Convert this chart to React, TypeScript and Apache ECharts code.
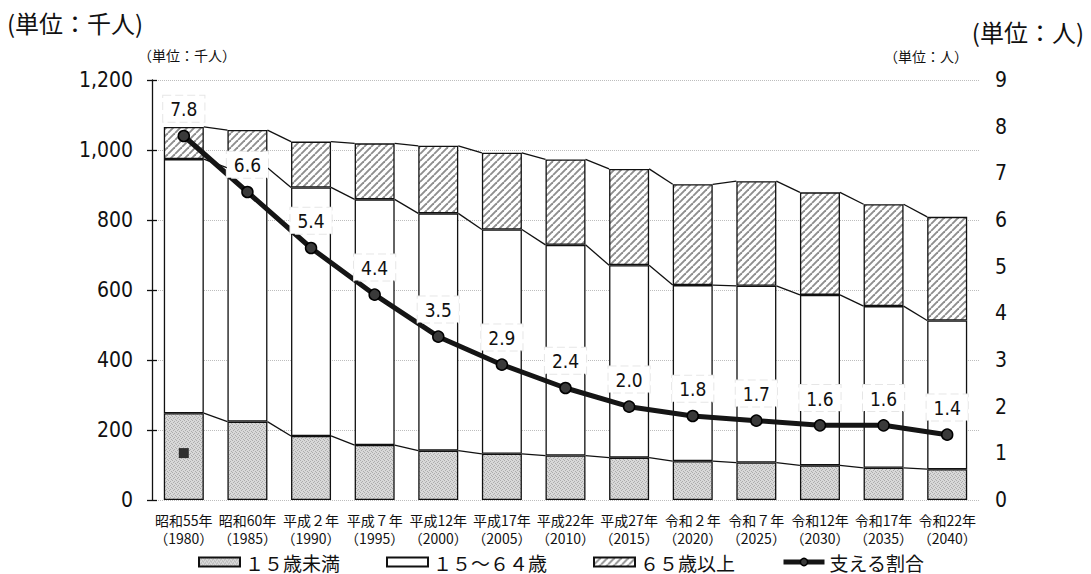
import React, { useEffect, useRef } from "react";
import * as echarts from "echarts";

// 年次（和暦＋西暦）
const categories = [
  "昭和55年\n（1980）",
  "昭和60年\n（1985）",
  "平成２年\n（1990）",
  "平成７年\n（1995）",
  "平成12年\n（2000）",
  "平成17年\n（2005）",
  "平成22年\n（2010）",
  "平成27年\n（2015）",
  "令和２年\n（2020）",
  "令和７年\n（2025）",
  "令和12年\n（2030）",
  "令和17年\n（2035）",
  "令和22年\n（2040）",
];

// 年齢区分別人口（千人）
const under15 = [248, 224, 183, 157, 141, 132, 127, 121, 111, 107, 99, 92, 88];
const age15to64 = [726, 725, 710, 702, 678, 641, 602, 550, 503, 505, 487, 462, 425];
const age65plus = [92, 108, 131, 160, 193, 219, 244, 275, 288, 299, 293, 291, 296];

// 65歳以上1人を支える15～64歳の人数（人）
const supportRatio = [7.8, 6.6, 5.4, 4.4, 3.5, 2.9, 2.4, 2.0, 1.8, 1.7, 1.6, 1.6, 1.4];

const leftTicks = { min: 0, max: 1200, interval: 200 };
const rightTicks = { min: 0, max: 9, interval: 1 };

const NAME_U15 = "１５歳未満";
const NAME_WORK = "１５～６４歳";
const NAME_OLD = "６５歳以上";
const NAME_RATIO = "支える割合";

const BAR_W = 40;
const CJK = "'Noto Sans CJK JP', 'Noto Sans', sans-serif";
const NUM = "'Liberation Sans Narrow', 'DejaVu Sans Condensed', 'DejaVu Sans', sans-serif";

function stipplePattern(): HTMLCanvasElement {
  const c = document.createElement("canvas");
  c.width = 4;
  c.height = 4;
  const g = c.getContext("2d")!;
  g.fillStyle = "#d8d8d8";
  g.fillRect(0, 0, 4, 4);
  g.fillStyle = "#acacac";
  [[0, 0], [2, 1], [1, 2], [3, 3]].forEach(([x, y]) => g.fillRect(x, y, 1, 1));
  return c;
}

function hatchPattern(): HTMLCanvasElement {
  const s = 7;
  const c = document.createElement("canvas");
  c.width = s;
  c.height = s;
  const g = c.getContext("2d")!;
  g.fillStyle = "#ffffff";
  g.fillRect(0, 0, s, s);
  g.strokeStyle = "#8e8e8e";
  g.lineWidth = 1.9;
  for (const k of [-s, 0, s]) {
    g.beginPath();
    g.moveTo(k, s);
    g.lineTo(k + s, 0);
    g.stroke();
  }
  return c;
}

export default function App() {
  const ref = useRef<HTMLDivElement>(null);

  useEffect(() => {
    if (!ref.current) return;
    const chart = echarts.init(ref.current, null, { renderer: "svg", width: 1091, height: 574 });

    const level1 = under15;
    const level2 = under15.map((v, i) => v + age15to64[i]);
    const level3 = level2.map((v, i) => v + age65plus[i]);
    const levels = [level1, level2, level3];

    const barBorder = { borderColor: "#111", borderWidth: 1.3 };

    chart.setOption({
      animation: false,
      backgroundColor: "#ffffff",
      grid: { left: 152, right: 112, top: 80, bottom: 74, containLabel: false },
      legend: {
        left: 198,
        top: 552,
        padding: 0,
        itemWidth: 41,
        itemHeight: 9,
        itemGap: 46,
        textStyle: { fontFamily: CJK, fontSize: 19, color: "#111", lineHeight: 20, height: 20 },
        data: [
          { name: NAME_U15, icon: "rect" },
          { name: NAME_WORK, icon: "rect" },
          { name: NAME_OLD, icon: "rect" },
          {
            name: NAME_RATIO,
            itemWidth: 44,
            itemHeight: 12,
            lineStyle: { color: "#151515", width: 5 },
            itemStyle: { color: "#3a3a3a", borderColor: "#000", borderWidth: 1.5 },
          },
        ],
      },
      xAxis: {
        type: "category",
        data: categories,
        axisLine: { show: false },
        axisTick: { show: false },
        axisLabel: {
          interval: 0,
          fontFamily: CJK,
          fontSize: 14,
          lineHeight: 18,
          margin: 11,
          color: "#111",
        },
      },
      yAxis: [
        {
          type: "value",
          position: "left",
          ...leftTicks,
          axisLine: { show: true, lineStyle: { color: "#111", width: 1.3 } },
          axisTick: { show: true, length: 5, lineStyle: { color: "#111", width: 1.3 } },
          axisLabel: {
            fontFamily: NUM,
            fontSize: 21,
            color: "#111",
            margin: 19,
            formatter: (v: number) => v.toLocaleString("en-US"),
          },
          splitLine: { show: true, lineStyle: { color: "#bdbdbd", type: "dotted", width: 1 } },
        },
        {
          type: "value",
          position: "right",
          ...rightTicks,
          axisLine: { show: false },
          axisTick: { show: false },
          splitLine: { show: false },
          axisLabel: { fontFamily: NUM, fontSize: 21, color: "#111", margin: 16 },
        },
        {
          type: "value",
          position: "left",
          ...leftTicks,
          axisLine: { show: false },
          axisTick: { show: true, inside: true, length: 5, lineStyle: { color: "#111", width: 1.3 } },
          axisLabel: { show: false },
          splitLine: { show: false },
        },
      ],
      series: [
        {
          name: NAME_U15,
          type: "bar",
          stack: "pop",
          barWidth: BAR_W,
          data: under15,
          itemStyle: { color: { image: stipplePattern(), repeat: "repeat" }, ...barBorder },
          z: 2,
        },
        {
          name: NAME_WORK,
          type: "bar",
          stack: "pop",
          barWidth: BAR_W,
          data: age15to64,
          itemStyle: { color: "#ffffff", ...barBorder },
          z: 2,
        },
        {
          name: NAME_OLD,
          type: "bar",
          stack: "pop",
          barWidth: BAR_W,
          data: age65plus,
          itemStyle: { color: { image: hatchPattern(), repeat: "repeat" }, ...barBorder },
          z: 2,
        },
        {
          // connector lines between neighbouring stacked bars
          name: "connectors",
          type: "custom",
          z: 3,
          silent: true,
          data: categories.map((_, i) => [i, 0]),
          encode: { x: 0, y: 1 },
          renderItem: (params: any, api: any) => {
            const i = params.dataIndex;
            if (i >= categories.length - 1) return { type: "group", children: [] };
            const half = BAR_W / 2;
            return {
              type: "group",
              children: levels.map((lvl) => {
                const a = api.coord([i, lvl[i]]);
                const b = api.coord([i + 1, lvl[i + 1]]);
                return {
                  type: "line",
                  shape: { x1: a[0] + half, y1: a[1], x2: b[0] - half, y2: b[1] },
                  style: { stroke: "#111", lineWidth: 1.3 },
                };
              }),
            };
          },
        },
        {
          name: NAME_RATIO,
          type: "line",
          yAxisIndex: 1,
          z: 5,
          data: supportRatio,
          symbol: "circle",
          symbolSize: 11,
          lineStyle: { color: "#151515", width: 5 },
          itemStyle: { color: "#3a3a3a", borderColor: "#000", borderWidth: 1.5 },
          label: {
            show: true,
            position: "top",
            distance: 8,
            formatter: (p: any) => Number(p.value).toFixed(1),
            fontFamily: NUM,
            fontSize: 19,
            color: "#111",
            backgroundColor: "#ffffff",
            borderColor: "#e6e6e6",
            borderType: "dashed",
            borderWidth: 1,
            padding: [4, 7, 3, 7],
          },
        },
      ],
    });

    // small dark square drawn inside the first bar
    const sq = chart.convertToPixel({ xAxisIndex: 0, yAxisIndex: 0 }, [0, 134]) as number[];

    chart.setOption({
      graphic: [
        {
          type: "text",
          left: 7,
          top: 10,
          style: { text: "(単位：千人)", font: `24px ${CJK}`, fill: "#111" },
        },
        {
          type: "text",
          right: 7,
          top: 19,
          style: { text: "(単位：人)", font: `24px ${CJK}`, fill: "#111" },
        },
        {
          type: "text",
          left: 138,
          top: 48,
          style: { text: "（単位：千人）", font: `14px ${CJK}`, fill: "#111" },
        },
        {
          type: "text",
          left: 884,
          top: 49,
          style: { text: "（単位：人）", font: `14px ${CJK}`, fill: "#111" },
        },
        {
          type: "rect",
          shape: { x: sq[0] - 5, y: sq[1] - 5, width: 10, height: 10 },
          style: { fill: "#2e2e2e" },
          z: 10,
        },
      ],
    });

    return () => chart.dispose();
  }, []);

  return (
    <div
      ref={ref}
      style={{ position: "absolute", left: 0, top: 0, width: 1091, height: 574, background: "#fff" }}
    />
  );
}
